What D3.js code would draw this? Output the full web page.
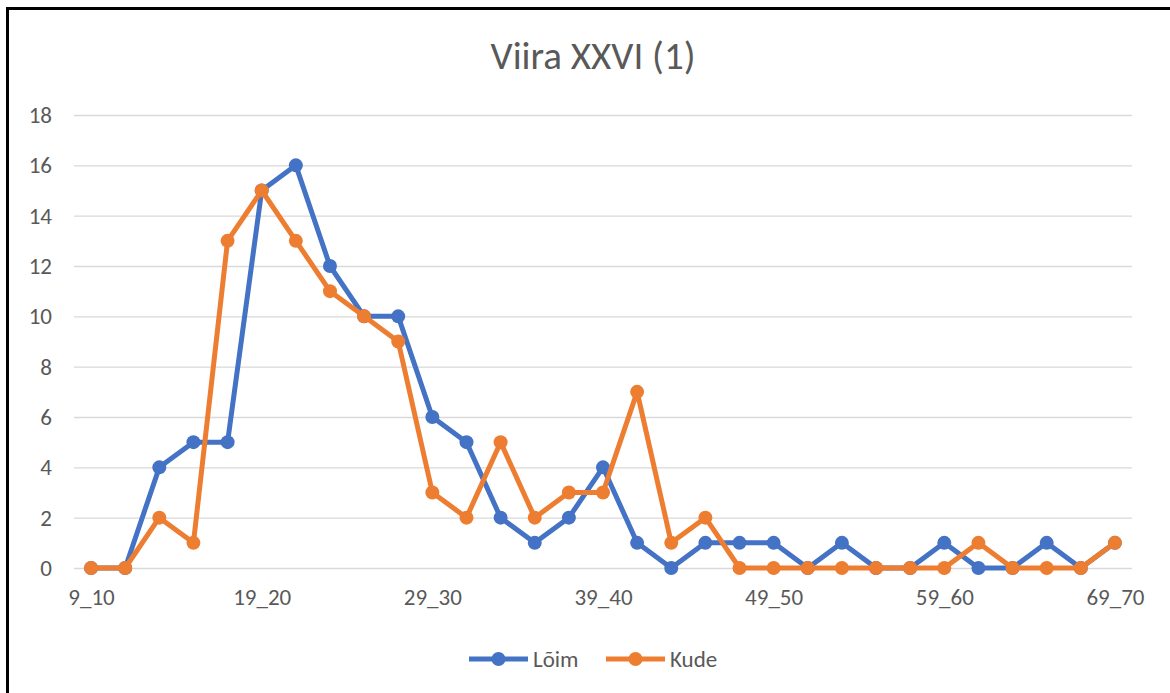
<!DOCTYPE html>
<html>
<head>
<meta charset="utf-8">
<script src="https://cdn.jsdelivr.net/npm/d3@7"></script>
<style>
  body { margin: 0; background: #fff; }
  text { font-family: Carlito, Calibri, "Liberation Sans", "Open Sans", sans-serif; }
</style>
</head>
<body>
<div id="chart"></div>
<script>
const categories = ['9_10', '11_12', '13_14', '15_16', '17_18', '19_20', '21_22', '23_24', '25_26', '27_28',
    '29_30', '31_32', '33_34', '35_36', '37_38', '39_40', '41_42', '43_44', '45_46', '47_48',
    '49_50', '51_52', '53_54', '55_56', '57_58', '59_60', '61_62', '63_64', '65_66', '67_68', '69_70'];
const loim = [0, 0, 4, 5, 5, 15, 16, 12, 10, 10, 6, 5, 2, 1, 2, 4, 1, 0, 1, 1, 1, 0, 1, 0, 0, 1, 0, 0, 1, 0, 1];
const kude = [0, 0, 2, 1, 13, 15, 13, 11, 10, 9, 3, 2, 5, 2, 3, 3, 7, 1, 2, 0, 0, 0, 0, 0, 0, 0, 1, 0, 0, 0, 1];
const yTicks = [0, 2, 4, 6, 8, 10, 12, 14, 16, 18];
const xLabels = ['9_10', '19_20', '29_30', '39_40', '49_50', '59_60', '69_70'];

const series = [
    { name: 'Lõim', values: loim, color: '#4472C4' },
    { name: 'Kude', values: kude, color: '#ED7D31' }
];

const w = 1170,
    h = 693;
const margin = { left: 74, right: 38, top: 115, bottom: 125 };
const FONT = 'Carlito, Calibri, "Liberation Sans", sans-serif';

const svg = d3.select('#chart')
    .append('svg')
    .attr('width', w)
    .attr('height', h);

// frame (only top + left edges visible)
svg.append('line').attr('x1', 6).attr('x2', w).attr('y1', 8.5).attr('y2', 8.5)
    .attr('stroke', '#000').attr('stroke-width', 3);
svg.append('line').attr('x1', 7.5).attr('x2', 7.5).attr('y1', 7).attr('y2', h)
    .attr('stroke', '#000').attr('stroke-width', 3);

// title
svg.append('text')
    .attr('x', 593)
    .attr('y', 69)
    .attr('text-anchor', 'middle')
    .attr('font-size', 39)
    .attr('fill', '#595959')
    .text('Viira XXVI (1)');

const xScale = d3.scalePoint()
    .domain(categories)
    .range([margin.left, w - margin.right])
    .padding(0.5);

const yScale = d3.scaleLinear()
    .domain([0, 18])
    .range([h - margin.bottom, margin.top]);

// gridlines
svg.append('g')
    .selectAll('line')
    .data(yTicks)
    .enter()
    .append('line')
    .attr('x1', margin.left)
    .attr('x2', w - margin.right)
    .attr('y1', d => yScale(d) + 0.5)
    .attr('y2', d => yScale(d) + 0.5)
    .attr('stroke', '#d9d9d9')
    .attr('stroke-width', 1.3);

// y axis labels
const yAxis = d3.axisLeft(yScale).tickValues(yTicks).tickSize(0).tickPadding(22);
const gy = svg.append('g')
    .attr('transform', `translate(${margin.left},0)`)
    .call(yAxis);
gy.select('.domain').remove();
gy.selectAll('text').attr('font-size', 23).attr('fill', '#595959').style('font-family', FONT);

// x axis labels
const xAxis = d3.axisBottom(xScale).tickValues(xLabels).tickSize(0).tickPadding(21);
const gx = svg.append('g')
    .attr('transform', `translate(0,${h - margin.bottom})`)
    .call(xAxis);
gx.select('.domain').remove();
gx.selectAll('text').attr('font-size', 23).attr('fill', '#595959').style('font-family', FONT);

const line = d3.line()
    .x((d, i) => xScale(categories[i]))
    .y(d => yScale(d));

series.forEach(s => {
    const g = svg.append('g');
    g.append('path')
        .datum(s.values)
        .attr('d', line)
        .attr('fill', 'none')
        .attr('stroke', s.color)
        .attr('stroke-width', 5)
        .attr('stroke-linejoin', 'round');
    g.selectAll('circle')
        .data(s.values)
        .enter()
        .append('circle')
        .attr('cx', (d, i) => xScale(categories[i]))
        .attr('cy', d => yScale(d))
        .attr('r', 7)
        .attr('fill', s.color);
});

// legend
const legend = svg.append('g').attr('transform', 'translate(469,659)');
series.forEach((s, i) => {
    const lg = legend.append('g').attr('transform', `translate(${i * 137},0)`);
    lg.append('line').attr('x1', 0).attr('x2', 59).attr('y1', 0).attr('y2', 0)
        .attr('stroke', s.color).attr('stroke-width', 5);
    lg.append('circle').attr('cx', 29.5).attr('cy', 0).attr('r', 7).attr('fill', s.color);
    lg.append('text').attr('x', 64).attr('y', 8).attr('font-size', 23).attr('fill', '#595959').text(s.name);
});
</script>
</body>
</html>
